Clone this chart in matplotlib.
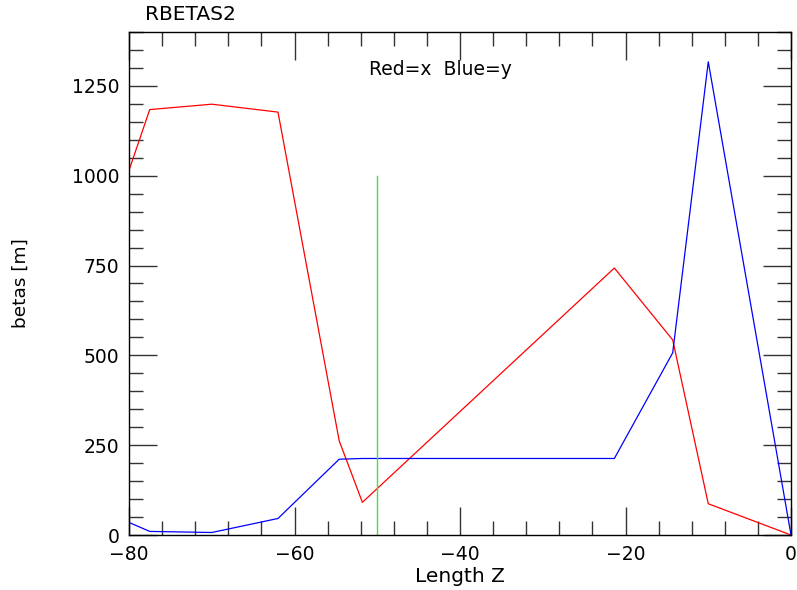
import matplotlib.pyplot as plt
from matplotlib.ticker import MultipleLocator

# lattice positions (m) and beta functions
z = [-80.0, -77.5, -70.0, -62.0, -54.6, -51.8, -21.35, -14.3, -10.0, 0.0]
beta_x = [1015, 1184, 1199, 1177, 262, 91, 743, 543, 87, 0]
beta_y = [35, 10, 7, 46, 211, 213, 213, 507, 1317, 0]
marker_z = -50.0
marker_top = 1000

fig = plt.figure(figsize=(7.97, 5.90), dpi=100)
ax = fig.add_axes([0.1619, 0.0932, 0.8306, 0.8526])

ax.plot(z, beta_x, color="red", linewidth=0.9)
ax.plot(z, beta_y, color="blue", linewidth=0.9)
ax.plot([marker_z, marker_z], [0, marker_top], color="#44e044", linewidth=1.0)

ax.set_xlim(-80, 0)
ax.set_ylim(0, 1400)
ax.xaxis.set_major_locator(MultipleLocator(20))
ax.xaxis.set_minor_locator(MultipleLocator(4))
ax.yaxis.set_major_locator(MultipleLocator(250))
ax.yaxis.set_minor_locator(MultipleLocator(50))
ax.tick_params(which="both", direction="in", top=True, right=True,
               labelsize=13.5, width=1, color="#333333")
ax.tick_params(which="major", length=20, pad=7)
ax.tick_params(which="minor", length=10)
for s in ax.spines.values():
    s.set_linewidth(1)

ax.set_xlabel("Length Z", fontsize=14.5, labelpad=2)
ax.set_ylabel("betas [m]", fontsize=13.3)
ax.yaxis.set_label_coords(-0.15, 0.5)
fig.text(145 / 797, 1 - 14 / 590, "RBETAS2", fontsize=14.5, va="center", ha="left")
ax.text(0.47, 0.925, "Red=x  Blue=y", transform=ax.transAxes, fontsize=13.5,
        ha="center", va="center")

fig.savefig("out.png", dpi=100)
plt.close(fig)
